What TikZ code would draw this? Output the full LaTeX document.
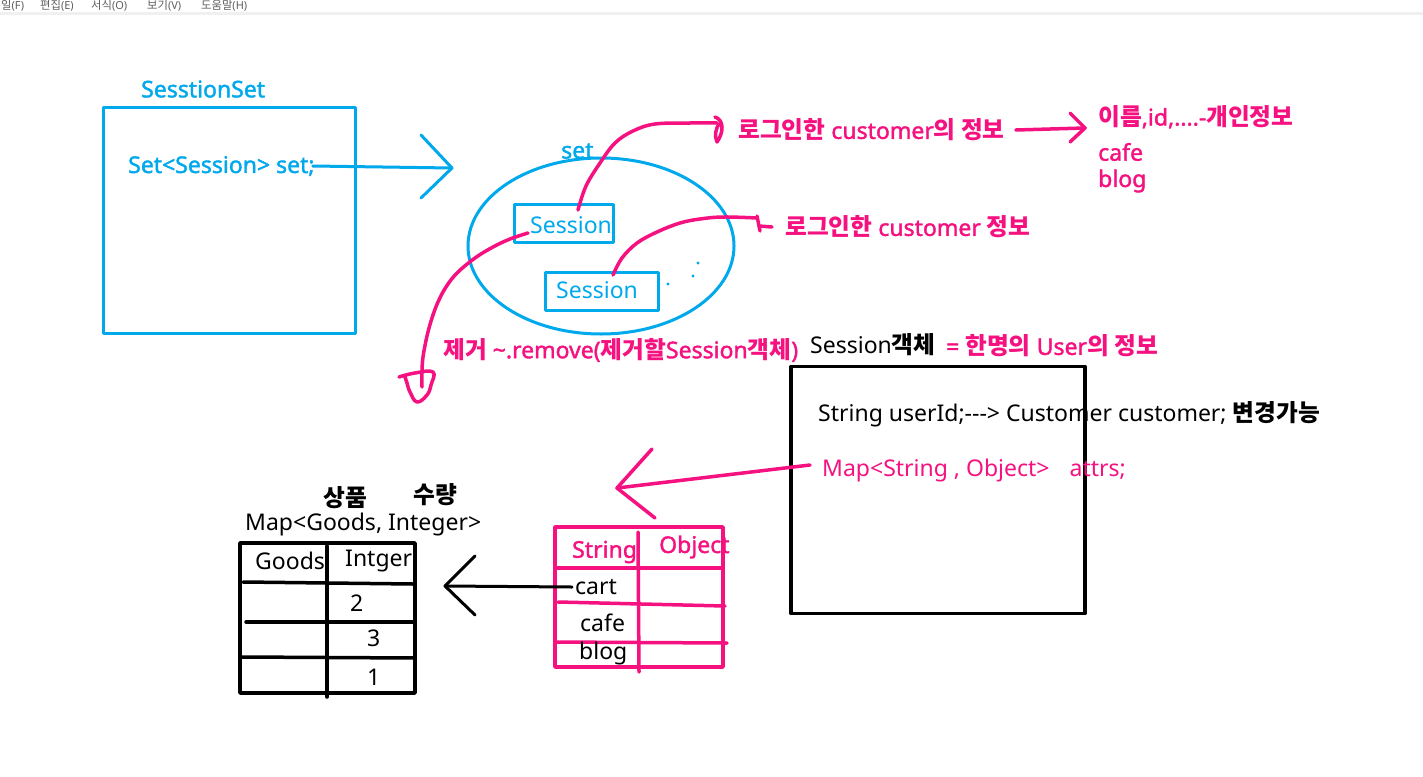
\documentclass[tikz,border=0pt]{standalone}
\usepackage{fontspec}
\setmainfont{Noto Sans}[AutoFakeBold=1.6]
\newfontfamily\kr{Noto Sans CJK KR}[Scale=1.03]
\usetikzlibrary{shapes.geometric}
\definecolor{sky}{RGB}{0,168,236}
\definecolor{pnk}{RGB}{245,18,128}
\definecolor{menugray}{RGB}{95,95,95}
\begin{document}
\begin{tikzpicture}[x=1pt,y=-1pt, line cap=round, line join=round,
  txt/.style={anchor=west,inner sep=0pt,font=\fontsize{23}{27}\selectfont},
  btxt/.style={anchor=west,inner sep=0pt,font=\fontsize{23}{27}\selectfont\bfseries},
  bluepen/.style={draw=sky,line width=3pt},
  pinkpen/.style={draw=pnk,line width=3.5pt},
  blackpen/.style={draw=black,line width=3.5pt},
  thinblack/.style={draw=black,line width=3pt},
  menu/.style={anchor=west,inner sep=0pt,text=menugray,font=\fontsize{11}{13}\selectfont}]
\path[use as bounding box] (0,0) rectangle (1423,776);
\clip (0,0) rectangle (1423,776);
\fill[white] (0,0) rectangle (1423,776);
\fill[gray!12] (0,12) rectangle (1423,15);

% menu bar
\node[menu] (m1) at (1,5.5) {{\kr 일}(F)};
\node[menu] (m2) at (40,5.5) {{\kr 편집}(E)};
\node[menu] (m3) at (91,5.5) {{\kr 서식}(O)};
\node[menu] (m4) at (147,5.5) {{\kr 보기}(V)};
\node[menu] (m5) at (201,5.5) {{\kr 도움말}(H)};

% SessionSet box
\node[bluepen, minimum width=252pt, minimum height=226pt, inner sep=0pt] (ssbox) at (229,220) {};
\node[btxt,text=sky] (sstitle) at (141,89) {SesstionSet};
\node[btxt,text=sky] (setdecl) at (128,166) {Set<Session> set;};
\coordinate (btip) at (452,168);
\coordinate (bh1) at (421,135);
\coordinate (bh2) at (421,198);
\draw[bluepen] ([xshift=-2pt]setdecl.east) -- (btip);
\draw[bluepen] (bh1) -- (btip) -- (bh2);

% set ellipse
\node[bluepen, ellipse, minimum width=266pt, minimum height=176pt, inner sep=0pt] (setell) at (601,246) {};
\node[btxt,text=sky] (setlbl) at (561,151) {set};
\node[bluepen, minimum width=99pt, minimum height=38pt, inner sep=0pt] (s1box) at (563.5,223) {};
\node[txt,text=sky] (s1) at (530,225) {Session};
\node[bluepen, minimum width=113pt, minimum height=38pt, inner sep=0pt] (s2box) at (601.5,291) {};
\node[txt,text=sky] (s2) at (556,290) {Session};
\fill[sky] (668,284) circle (1.6pt);
\fill[sky] (693,276) circle (1.6pt);
\fill[sky] (698,263) circle (1.6pt);

% curve 1
\coordinate (c1a) at (578,210);
\coordinate (c1b) at (717,123);
\draw[pinkpen] plot[smooth, tension=0.6] coordinates {(c1a) (586,186) (600,163) (615,143) (633,131) (655,124) (690,123) (c1b)};
\draw[pinkpen] (715,117) .. controls (724,120) and (724,132) .. (717,142) .. controls (714,136) and (716,128) .. (719,124);
\node[btxt,text=pnk] (info1) at (738,130) {{\kr 로그인한} customer{\kr 의 정보}};
\coordinate (ptip) at (1085,128);
\draw[pinkpen] ([xshift=11pt]info1.east) -- (ptip);
\draw[pinkpen] (1070,113) -- (ptip) -- (1070,142);
\node[btxt,text=pnk] (pinfo) at (1098,117) {{\kr 이름},id,....-{\kr 개인정보}};
\node[btxt,text=pnk] (pcafe) at (1098,152) {cafe};
\node[btxt,text=pnk] (pblog) at (1098,181) {blog};

% curve 2
\coordinate (c2a) at (613,275);
\coordinate (c2b) at (757,218);
\draw[pinkpen] plot[smooth, tension=0.6] coordinates {(c2a) (622,258) (637,243) (657,232) (680,223) (700,219) (723,217) (c2b)};
\draw[pinkpen] (757,216) -- (760,231);
\draw[pinkpen] (759,226) -- (772,227);
\node[btxt,text=pnk] (info2) at (785,227) {{\kr 로그인한} customer {\kr 정보}};

% curve 3
\coordinate (c3a) at (528,233);
\coordinate (c3b) at (422,387);
\draw[pinkpen] plot[smooth, tension=0.6] coordinates {(c3a) (510,239) (493,247) (475,258) (457,273) (446,287) (438,302) (432,318) (427,336) (423,357) (422,372) (c3b)};
\draw[pinkpen] plot[smooth, tension=0.7] coordinates {(399,377) (415,373) (433,372) (431,385) (427,395) (417,402) (410,392) (407,383) (405,377)};
\node[btxt,text=pnk] (remove) at (443,350) {{\kr 제거} \char`\~.remove({\kr 제거할}Session{\kr 객체})};

% Session object
\node[txt] (sobj) at (810,345) {Session{\bfseries\kr 객체}};
\node[btxt,text=pnk] (sobjdef) at (946,346) {= {\kr 한명의} User{\kr 의 정보}};
\node[blackpen, minimum width=294pt, minimum height=247pt, inner sep=0pt] (objbox) at (938,490) {};
\node[txt] (userid) at (818,414) {String userId;-{}-{}-> Customer customer; {\bfseries\kr 변경가능}};
\node[txt,text=pnk] (attrs) at (822,471) {Map<String , Object>\hspace{14pt} attrs;};
\coordinate (mtip) at (617,488);
\draw[pinkpen] (810,465) -- (mtip);
\draw[pinkpen] (652,449) -- (mtip) -- (655,518);

% pink table
\node[pinkpen, minimum width=168pt, minimum height=140pt, inner sep=0pt] (ptab) at (639,597) {};
\draw[pinkpen] (638,532) -- (639,672);
\draw[pinkpen] (555,568) -- (722,568);
\draw[pinkpen] (558,602) -- (725,606);
\draw[pinkpen] (555,642) -- (727,643);
\node[btxt,text=pnk] (hstr) at (572,552) {String};
\node[btxt,text=pnk] (hobj) at (659,547) {Object};
\node[txt] (cart) at (575,587) {cart};
\node[txt] (cafe) at (580,623) {cafe};
\node[txt] (blog) at (579,654) {blog};

% black arrow
\coordinate (ktip) at (445,586);
\draw[thinblack] ([xshift=-3pt]cart.west) -- (ktip);
\draw[thinblack] (475,556) -- (ktip) -- (475,615);

% black table
\node[blackpen, minimum width=175pt, minimum height=150pt, inner sep=0pt] (btab) at (327.5,618) {};
\draw[blackpen] (327,546) -- (327,697);
\draw[blackpen] (243,582) -- (413,584);
\draw[blackpen] (246,622) -- (415,622);
\draw[blackpen] (242,657) -- (415,658);
\node[txt] (hgoods) at (255,561) {Goods};
\node[txt] (hint) at (345,561) {Intger};
\node[txt] (v2) at (350,603) {2};
\node[txt] (v3) at (367,638) {3};
\node[txt] (v1) at (367,677) {1};
\node[btxt] (sangp) at (323,498) {{\kr 상품}};
\node[btxt] (suryang) at (413,495) {{\kr 수량}};
\node[txt] (mapgoods) at (245,525) {Map<Goods, Integer>};
\end{tikzpicture}
\end{document}
